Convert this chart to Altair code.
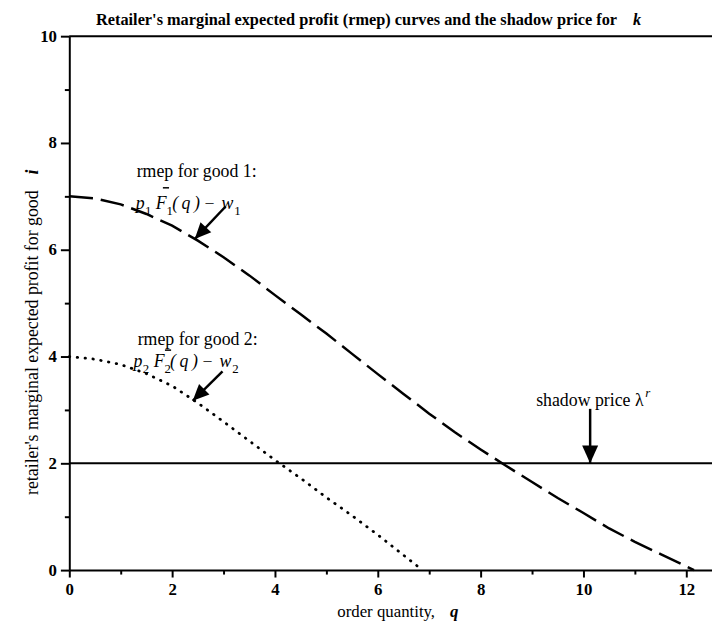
import altair as alt
import pandas as pd

# ---- data ----
q1 = [0, 0.5, 1, 1.5, 2, 2.5, 3, 3.5, 4, 4.5, 5, 5.5, 6, 6.5, 7, 7.5, 8, 8.5, 9, 9.5, 10, 10.5, 11, 11.5, 12, 12.15]
v1 = [7.0, 6.96, 6.85, 6.67, 6.45, 6.17, 5.86, 5.52, 5.15, 4.79, 4.43, 4.05, 3.67, 3.3, 2.93, 2.58, 2.26, 1.95, 1.65, 1.35, 1.07, 0.78, 0.53, 0.3, 0.07, 0.0]
q2 = [0, 0.5, 1, 1.5, 2, 2.5, 3, 3.5, 4, 4.5, 5, 5.5, 6, 6.5, 6.87]
v2 = [4.0, 3.95, 3.85, 3.68, 3.45, 3.13, 2.78, 2.42, 2.06, 1.72, 1.36, 1.02, 0.66, 0.28, 0.0]
shadow_price = [2]
frame_top = [10]
x_major = [0, 2, 4, 6, 8, 10, 12]
x_minor = [1, 3, 5, 7, 9, 11]
y_major = [0, 2, 4, 6, 8, 10]
y_minor = [1, 3, 5, 7, 9]

# plain annotation texts
lab_q = [1.31, 1.33, 9.08]
lab_v = [7.37, 4.22, 3.07]
lab_text = ["rmep for good 1:", "rmep for good 2:", "shadow price \u03bb"]
sup_q = [11.2]
sup_v = [3.24]
sup_text = ["r"]

# formula pieces: p_i F_i(q) - w_i  (start q, baseline v, offsets in q units)
formula_start_q = [1.29, 1.25]
formula_v = [6.76, 3.8]
formula_good = ["1", "2"]
piece_text = ["p", "#", "F", "#", "(\u2009q\u2009)", "\u2212", "w", "#"]
piece_dq = [0.0, 0.18, 0.39, 0.6, 0.71, 1.34, 1.67, 1.92]
sub_drop = 0.1

bar_q = [1.82, 1.86]
bar_q2 = [1.94, 1.98]
bar_v = [7.16, 4.12]

arrow_q = [3.04, 2.98, 10.13]
arrow_v = [6.81, 3.72, 3.02]
arrow_q2 = [2.44, 2.4, 10.13]
arrow_v2 = [6.2, 3.17, 2.0]
arrow_angle = [223, 225, 180]
arrow_size = [1089, 1089, 1296]

FONT = "Liberation Serif"
x_scale = alt.Scale(domain=[0, 12.5], nice=False, zero=False)
y_scale = alt.Scale(domain=[0, 10], nice=False, zero=False)

common = dict(grid=False, domainColor="black", tickColor="black", tickWidth=2,
              labelFont=FONT, labelFontWeight="bold", labelFontSize=17, labelColor="black", title="")

x_ax_major = alt.Axis(values=x_major, orient="bottom", tickSize=7, domainWidth=2, labelPadding=5,
                      labelFlush=False, labelOverlap=False, format="d", **common)
y_ax_major = alt.Axis(values=y_major, orient="left", tickSize=9, domainWidth=2, labelPadding=4,
                      labelOverlap=False, format="d", **common)
x_ax_minor = alt.Axis(values=x_minor, orient="bottom", tickSize=4, domain=False, labels=False, **common)
y_ax_minor = alt.Axis(values=y_minor, orient="left", tickSize=5, domain=False, labels=False, **common)

df1 = pd.DataFrame({"q": q1, "v": v1})
df2 = pd.DataFrame({"q": q2, "v": v2})

XN = lambda f="q": alt.X(f + ":Q", scale=x_scale, axis=None)
YN = lambda f="v": alt.Y(f + ":Q", scale=y_scale, axis=None)

curve1 = alt.Chart(df1).mark_line(color="black", strokeWidth=2.5, strokeDash=[24, 8]).encode(
    x=alt.X("q:Q", scale=x_scale, axis=x_ax_major),
    y=alt.Y("v:Q", scale=y_scale, axis=y_ax_major),
)
curve2 = alt.Chart(df2).mark_line(color="black", strokeWidth=2.8, strokeDash=[0.5, 7.5], strokeCap="round").encode(
    x=alt.X("q:Q", scale=x_scale, axis=x_ax_minor),
    y=alt.Y("v:Q", scale=y_scale, axis=y_ax_minor),
)

sp = alt.Chart(pd.DataFrame({"v": shadow_price})).mark_rule(color="black", strokeWidth=2).encode(y=YN())
top = alt.Chart(pd.DataFrame({"v": frame_top})).mark_rule(color="black", strokeWidth=2).encode(y=YN())

labels = alt.Chart(pd.DataFrame({"q": lab_q, "v": lab_v, "t": lab_text})).mark_text(
    font=FONT, fontSize=18, align="left", baseline="alphabetic", color="black").encode(
    x=XN(), y=YN(), text="t:N")
sups = alt.Chart(pd.DataFrame({"q": sup_q, "v": sup_v, "t": sup_text})).mark_text(
    font=FONT, fontSize=13, fontStyle="italic", align="left", baseline="alphabetic", color="black").encode(
    x=XN(), y=YN(), text="t:N")

rows = []
for sq, fv, g in zip(formula_start_q, formula_v, formula_good):
    for t, dq in zip(piece_text, piece_dq):
        if t == "#":
            rows.append({"q": sq + dq, "v": fv - sub_drop, "t": g, "s": "sub"})
        elif t == "\u2212":
            rows.append({"q": sq + dq, "v": fv, "t": t, "s": "plain"})
        else:
            rows.append({"q": sq + dq, "v": fv, "t": t, "s": "it"})
fp = pd.DataFrame(rows)
f_it = alt.Chart(fp[fp.s == "it"]).mark_text(
    font=FONT, fontSize=18, fontStyle="italic", align="left", baseline="alphabetic", color="black").encode(
    x=XN(), y=YN(), text="t:N")
f_plain = alt.Chart(fp[fp.s == "plain"]).mark_text(
    font=FONT, fontSize=18, align="left", baseline="alphabetic", color="black").encode(
    x=XN(), y=YN(), text="t:N")
f_sub = alt.Chart(fp[fp.s == "sub"]).mark_text(
    font=FONT, fontSize=13, align="left", baseline="alphabetic", color="black").encode(
    x=XN(), y=YN(), text="t:N")

bars = alt.Chart(pd.DataFrame({"q": bar_q, "q2": bar_q2, "v": bar_v})).mark_rule(
    color="black", strokeWidth=1.5).encode(x=XN(), x2="q2:Q", y=YN())

arr = pd.DataFrame({"q": arrow_q, "v": arrow_v, "q2": arrow_q2, "v2": arrow_v2,
                    "a": arrow_angle, "sz": arrow_size})
shafts = alt.Chart(arr).mark_rule(color="black", strokeWidth=2.5).encode(
    x=XN(), y=YN(), x2="q2:Q", y2="v2:Q")
heads = alt.Chart(arr).mark_point(shape="M0,0 L-0.45,1 L0.45,1 Z", filled=True, color="black", opacity=1,
                                  strokeWidth=0).encode(
    x=XN("q2"), y=YN("v2"),
    angle=alt.Angle("a:Q", scale=None), size=alt.Size("sz:Q", scale=None, legend=None))

# titles (pixel offsets relative to the plot area)
blank = alt.Chart(pd.DataFrame({"d": [0]}))
title_main = blank.mark_text(text="Retailer's marginal expected profit (rmep) curves and the shadow price for",
                             font=FONT, fontSize=16.5, fontWeight="bold", align="left", baseline="alphabetic",
                             color="black").encode(x=alt.value(27), y=alt.value(-11))
title_k = blank.mark_text(text="k", font=FONT, fontSize=16.5, fontWeight="bold", fontStyle="italic",
                          align="left", baseline="alphabetic", color="black").encode(x=alt.value(570), y=alt.value(-11))
xt_main = blank.mark_text(text="order quantity,", font=FONT, fontSize=17, align="left", baseline="alphabetic",
                          color="black").encode(x=alt.value(271), y=alt.value(587))
xt_q = blank.mark_text(text="q", font=FONT, fontSize=17, fontStyle="italic", fontWeight="bold", align="left",
                       baseline="alphabetic", color="black").encode(x=alt.value(385), y=alt.value(587))
yt_main = blank.mark_text(text="retailer's marginal expected profit for good", font=FONT, fontSize=18,
                          angle=270, align="left", baseline="middle", color="black").encode(
    x=alt.value(-37), y=alt.value(464))
yt_i = blank.mark_text(text="i", font=FONT, fontSize=18, fontStyle="italic", fontWeight="bold",
                       angle=270, align="left", baseline="middle", color="black").encode(
    x=alt.value(-37), y=alt.value(140))

chart = alt.layer(
    curve1, curve2, sp, top, shafts, heads, bars, labels, sups, f_it, f_plain, f_sub,
    title_main, title_k, xt_main, xt_q, yt_main, yt_i
).resolve_axis(x="independent", y="independent").properties(
    width=650, height=540,
    autosize=alt.AutoSizeParams(type="none"),
    padding={"left": 62, "top": 25, "right": 0, "bottom": 50},
    background="white",
).configure_view(strokeWidth=0)

chart.save("out.html", embed_options={"renderer": "svg", "actions": False})
